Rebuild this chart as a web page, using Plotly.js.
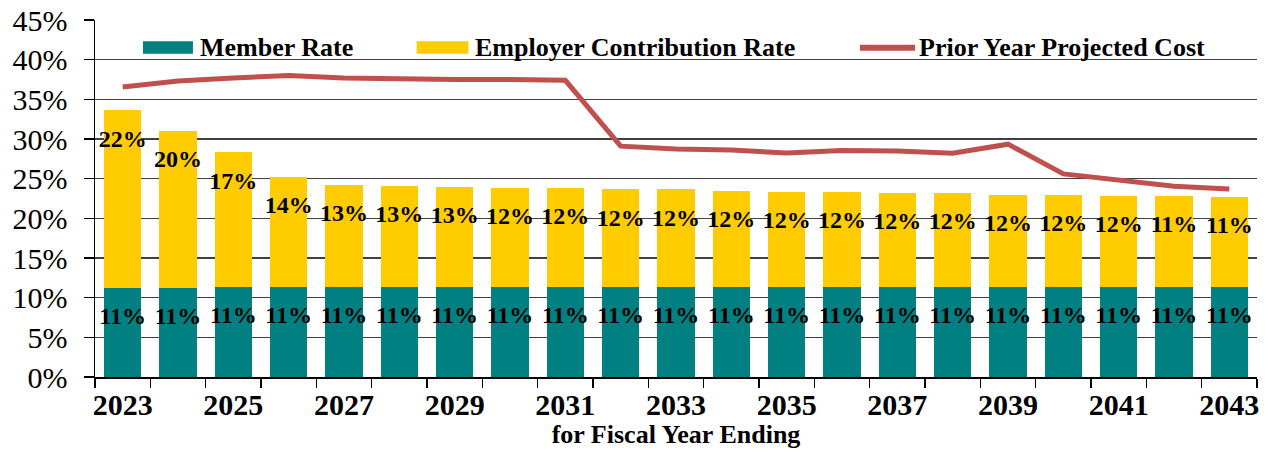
<!DOCTYPE html>
<html>
<head>
<meta charset="utf-8">
<script src="https://cdn.plot.ly/plotly-3.0.1.min.js"></script>
<style>html,body{margin:0;padding:0;background:#fff;}#chart{width:1275px;height:453px;}</style>
</head>
<body>
<div id="chart"></div>
<script>
const years = ['2023','2024','2025','2026','2027','2028','2029','2030','2031','2032','2033','2034','2035','2036','2037','2038','2039','2040','2041','2042','2043'];
const memberRate = [11.2,11.2,11.35,11.35,11.35,11.35,11.35,11.35,11.35,11.35,11.35,11.35,11.35,11.35,11.35,11.35,11.35,11.35,11.35,11.35,11.35];
const employerRate = [22.4,19.8,16.95,13.9,12.9,12.75,12.6,12.45,12.45,12.3,12.3,12.1,11.95,11.95,11.8,11.8,11.6,11.6,11.52,11.45,11.4];
const priorYearCost = [36.55,37.3,37.7,38.0,37.7,37.55,37.5,37.5,37.4,29.1,28.75,28.6,28.25,28.55,28.5,28.2,29.35,25.6,24.8,24.05,23.7];
const tickLabels = years.map((y,i)=> i%2===0 ? y : '');

const serif = '"Liberation Serif", "Times New Roman", Times, serif';
const labelOffset = 3.8;
const totals = memberRate.map((m,i)=> m + employerRate[i]);

const traces = [
  {type:'bar', x:years, y:memberRate, name:'Member Rate', marker:{color:'#008080'}, showlegend:false, hoverinfo:'skip'},
  {type:'bar', x:years, y:employerRate, name:'Employer Contribution Rate', marker:{color:'#FFCC00'}, showlegend:false, hoverinfo:'skip'},
  {type:'scatter', mode:'lines', x:years, y:priorYearCost, name:'Prior Year Projected Cost', line:{color:'#C0504D', width:5}, showlegend:false, hoverinfo:'skip'},
  {type:'scatter', mode:'text', x:years, y:memberRate.map(v=>v-labelOffset), text:memberRate.map(v=>Math.round(v)+'%'),
   textposition:'middle center', textfont:{family:serif, size:24, color:'#000', weight:'bold'}, showlegend:false, hoverinfo:'skip', cliponaxis:false},
  {type:'scatter', mode:'text', x:years, y:totals.map(v=>v-labelOffset), text:employerRate.map(v=>Math.round(v)+'%'),
   textposition:'middle center', textfont:{family:serif, size:24, color:'#000', weight:'bold'}, showlegend:false, hoverinfo:'skip', cliponaxis:false}
];

const legY = 0.922;
const layout = {
  width:1275, height:453,
  margin:{l:95, r:18, t:19.5, b:75.7, pad:0},
  paper_bgcolor:'#fff', plot_bgcolor:'#fff',
  barmode:'stack', bargap:0.33,
  showlegend:false,
  font:{family:serif, color:'#000'},
  xaxis:{
    type:'category', range:[-0.5, years.length-0.5], tickmode:'array', tickvals:years, ticktext:tickLabels,
    tickson:'boundaries', ticks:'outside', ticklen:9, tickwidth:1.5, tickcolor:'#000', tickangle:0,
    showline:true, linecolor:'#000', linewidth:1.5, showgrid:false,
    tickfont:{family:serif, size:30, color:'#000', weight:'bold'},
    title:{text:'for Fiscal Year Ending', font:{family:serif, size:26, color:'#000', weight:'bold'}, standoff:3},
    automargin:false, fixedrange:true
  },
  yaxis:{
    range:[0,45], dtick:5, tick0:0, ticksuffix:'%',
    ticks:'outside', ticklen:10, tickwidth:1.5, tickcolor:'#000',
    showline:true, linecolor:'#000', linewidth:1.5,
    showgrid:true, gridcolor:'#404040', gridwidth:1.3, zeroline:false,
    tickfont:{family:serif, size:30, color:'#000'},
    ticklabelstandoff:10,
    automargin:false, fixedrange:true
  },
  shapes:[
    {type:'rect', xref:'paper', yref:'paper', x0:0.0413, x1:0.0843, y0:0.9055, y1:0.9407, fillcolor:'#008080', line:{width:0}},
    {type:'rect', xref:'paper', yref:'paper', x0:0.2768, x1:0.3213, y0:0.9055, y1:0.9407, fillcolor:'#FFCC00', line:{width:0}},
    {type:'line', xref:'paper', yref:'paper', x0:0.6583, x1:0.7057, y0:legY, y1:legY, line:{color:'#C0504D', width:6}}
  ],
  annotations:[
    {xref:'paper', yref:'paper', x:0.0890, y:legY, xanchor:'left', yanchor:'middle', text:'Member Rate', showarrow:false, font:{family:serif, size:26, color:'#000', weight:'bold'}},
    {xref:'paper', yref:'paper', x:0.3250, y:legY, xanchor:'left', yanchor:'middle', text:'Employer Contribution Rate', showarrow:false, font:{family:serif, size:26, color:'#000', weight:'bold'}},
    {xref:'paper', yref:'paper', x:0.7070, y:legY, xanchor:'left', yanchor:'middle', text:'Prior Year Projected Cost', showarrow:false, font:{family:serif, size:26, color:'#000', weight:'bold'}}
  ]
};

Plotly.newPlot('chart', traces, layout, {displayModeBar:false, staticPlot:true});
</script>
</body>
</html>
